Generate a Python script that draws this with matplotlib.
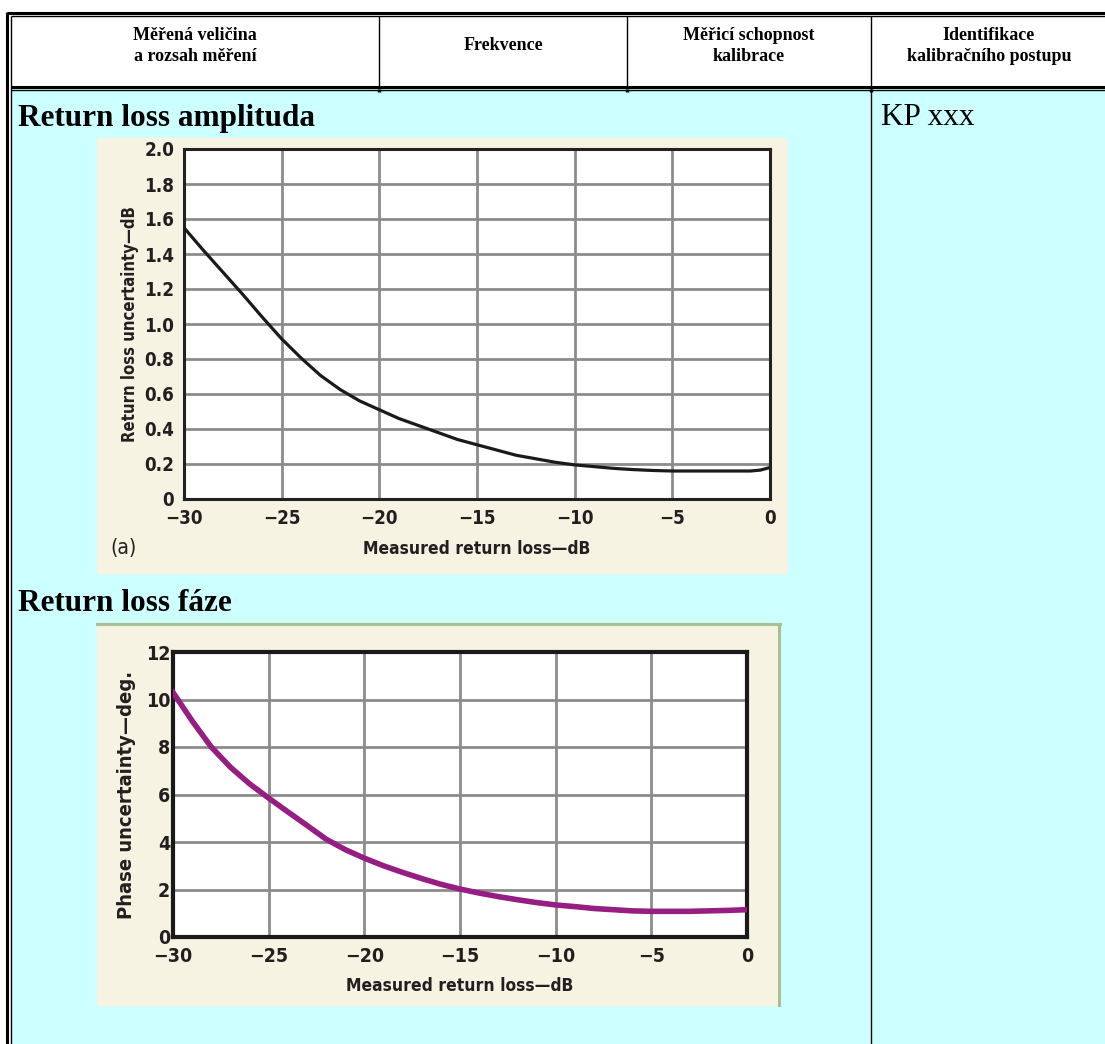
import matplotlib.pyplot as plt
from matplotlib.patches import Rectangle

# table texts
header_cols = ['Měřená veličina\na rozsah měření', 'Frekvence',
               'Měřicí schopnost\nkalibrace', 'Identifikace\nkalibračního postupu']
title_amp = 'Return loss amplituda'
title_phase = 'Return loss fáze'
procedure = 'KP xxx'

# chart (a): return loss uncertainty
rl_x = [-30, -29, -28, -27, -26, -25, -24, -23, -22, -21, -20, -19, -18, -17, -16,
        -15, -14, -13, -12, -11, -10, -9, -8, -7, -6, -5, -4, -3, -2, -1, -0.5, 0]
rl_unc = [1.55, 1.42, 1.295, 1.17, 1.04, 0.915, 0.805, 0.705, 0.625, 0.56, 0.51, 0.46,
          0.42, 0.38, 0.34, 0.31, 0.28, 0.25, 0.23, 0.21, 0.195, 0.185, 0.175,
          0.168, 0.163, 0.16, 0.16, 0.16, 0.16, 0.16, 0.165, 0.18]

# chart (b): phase uncertainty
ph_x = [-30, -29, -28, -27, -26, -25, -24, -23, -22, -21, -20, -19, -18, -17, -16,
        -15, -14, -13, -12, -11, -10, -9, -8, -7, -6, -5, -4, -3, -2, -1, 0]
ph_unc = [10.3, 9.1, 8.0, 7.15, 6.45, 5.85, 5.27, 4.7, 4.12, 3.68, 3.32, 3.0, 2.72,
          2.46, 2.22, 2.02, 1.85, 1.7, 1.57, 1.45, 1.35, 1.28, 1.2, 1.15, 1.1, 1.08,
          1.08, 1.08, 1.1, 1.12, 1.15]

x_ticks = [-30, -25, -20, -15, -10, -5, 0]
x_labels = ['\u221230', '\u221225', '\u221220', '\u221215', '\u221210', '\u22125', '0']
amp_yticks = [0, 0.2, 0.4, 0.6, 0.8, 1.0, 1.2, 1.4, 1.6, 1.8, 2.0]
amp_ylabels = ['0', '0.2', '0.4', '0.6', '0.8', '1.0', '1.2', '1.4', '1.6', '1.8', '2.0']
ph_yticks = [0, 2, 4, 6, 8, 10, 12]

W, H = 1105, 1044
serif = ['Liberation Serif', 'DejaVu Serif']
cond = ['DejaVu Sans']

fig = plt.figure(figsize=(W / 100, H / 100), dpi=100)
bg = fig.add_axes([0, 0, 1, 1])
bg.set_xlim(0, W)
bg.set_ylim(H, 0)
bg.axis('off')

# cells
bg.add_patch(Rectangle((0, 0), W, H, color='white', zorder=0))
bg.add_patch(Rectangle((11, 89), W, H, color='#CCFFFF', zorder=0))

# frame lines (double border)
k = dict(color='black', solid_capstyle='butt')
bg.plot([7, 7], [12, H], lw=2.2, **k)
bg.plot([11, 11], [16, H], lw=1.0, **k)
bg.plot([7, W], [12.5, 12.5], lw=2.2, **k)
bg.plot([11, W], [16, 16], lw=1.0, **k)
bg.plot([11, W], [86.5, 86.5], lw=2.2, **k)
bg.plot([11, W], [89.5, 89.5], lw=1.0, **k)
col_x = [11, 379, 627, 871, 1107]
for cx in col_x[1:4]:
    bg.plot([cx, cx], [16, 86], lw=1.0, **k)
bg.plot([871, 871], [89, H], lw=1.0, **k)
for cx in col_x[1:4]:
    bg.plot([cx, cx], [89, 92], lw=2.5, **k)

for i, txt in enumerate(header_cols):
    cx = (col_x[i] + col_x[i + 1]) / 2
    bg.text(cx, 46, txt, ha='center', va='center', fontsize=13, fontweight='bold',
            family=serif, linespacing=1.3)

bg.text(18, 126, title_amp, ha='left', va='baseline', fontsize=22.5, fontweight='bold', family=serif)
bg.text(18, 611, title_phase, ha='left', va='baseline', fontsize=22.5, fontweight='bold', family=serif)
bg.text(881, 125, procedure, ha='left', va='baseline', fontsize=22.5, family=serif)

# chart image backgrounds
bg.add_patch(Rectangle((97, 138), 690, 435, color='#F6F3E3', zorder=1))
bg.add_patch(Rectangle((97, 623), 683, 382, color='#F6F3E3', zorder=1))
bg.plot([97, 780], [624, 624], color='#A8BF94', lw=2.2, zorder=2)
bg.plot([779, 779], [624, 1005], color='#A8BF94', lw=2.2, zorder=2)


def px_axes(left, top, right, bottom):
    return fig.add_axes([left / W, 1 - bottom / H, (right - left) / W, (bottom - top) / H])


txt_col = '#231F20'
lab_font = dict(family=cond, fontstretch='condensed', fontweight='bold', color=txt_col)

# chart (a)
ax1 = px_axes(184, 149, 770, 499)
ax1.plot(rl_x, rl_unc, color='#1A1A1A', lw=2.3, zorder=3)
ax1.set_xlim(-30, 0)
ax1.set_ylim(0, 2.0)
ax1.set_xticks(x_ticks)
ax1.set_xticklabels(x_labels)
ax1.set_yticks(amp_yticks)
ax1.set_yticklabels(amp_ylabels)
ax1.grid(True, color='#8C8C8C', lw=2.0)
ax1.set_axisbelow(True)
for s in ax1.spines.values():
    s.set_linewidth(2.2)
    s.set_color('#222222')
ax1.tick_params(length=0, pad=7, labelsize=13.5, labelcolor=txt_col)
for lab in ax1.get_xticklabels() + ax1.get_yticklabels():
    lab.set_family(cond)
    lab.set_fontstretch('condensed')
    lab.set_fontweight('bold')
ax1.set_ylabel('Return loss uncertainty\u2014dB', fontsize=12, labelpad=4, **lab_font)
ax1.set_xlabel('Measured return loss\u2014dB', fontsize=12.5, labelpad=9, **lab_font)
bg.text(123, 548, '(a)', ha='center', va='center', fontsize=15, family=cond,
        fontstretch='condensed', color=txt_col, zorder=3)

# chart (b)
ax2 = px_axes(173, 652, 747, 937)
ax2.plot(ph_x, ph_unc, color='#961D82', lw=4.0, zorder=3)
ax2.set_xlim(-30, 0)
ax2.set_ylim(0, 12)
ax2.set_xticks(x_ticks)
ax2.set_xticklabels(x_labels)
ax2.set_yticks(ph_yticks)
ax2.grid(True, color='#8C8C8C', lw=2.0)
ax2.set_axisbelow(True)
for s in ax2.spines.values():
    s.set_linewidth(3.0)
    s.set_color('#1A1A1A')
ax2.tick_params(axis='y', length=0, pad=2, labelsize=14, labelcolor=txt_col)
ax2.tick_params(axis='x', length=0, pad=7, labelsize=14, labelcolor=txt_col)
for lab in ax2.get_xticklabels() + ax2.get_yticklabels():
    lab.set_family(cond)
    lab.set_fontstretch('condensed')
    lab.set_fontweight('bold')
ax2.set_ylabel('Phase uncertainty\u2014deg.', fontsize=14.5, labelpad=7, **lab_font)
ax2.set_xlabel('Measured return loss\u2014dB', fontsize=12.5, labelpad=8, **lab_font)

fig.savefig('out.png', dpi=100)
